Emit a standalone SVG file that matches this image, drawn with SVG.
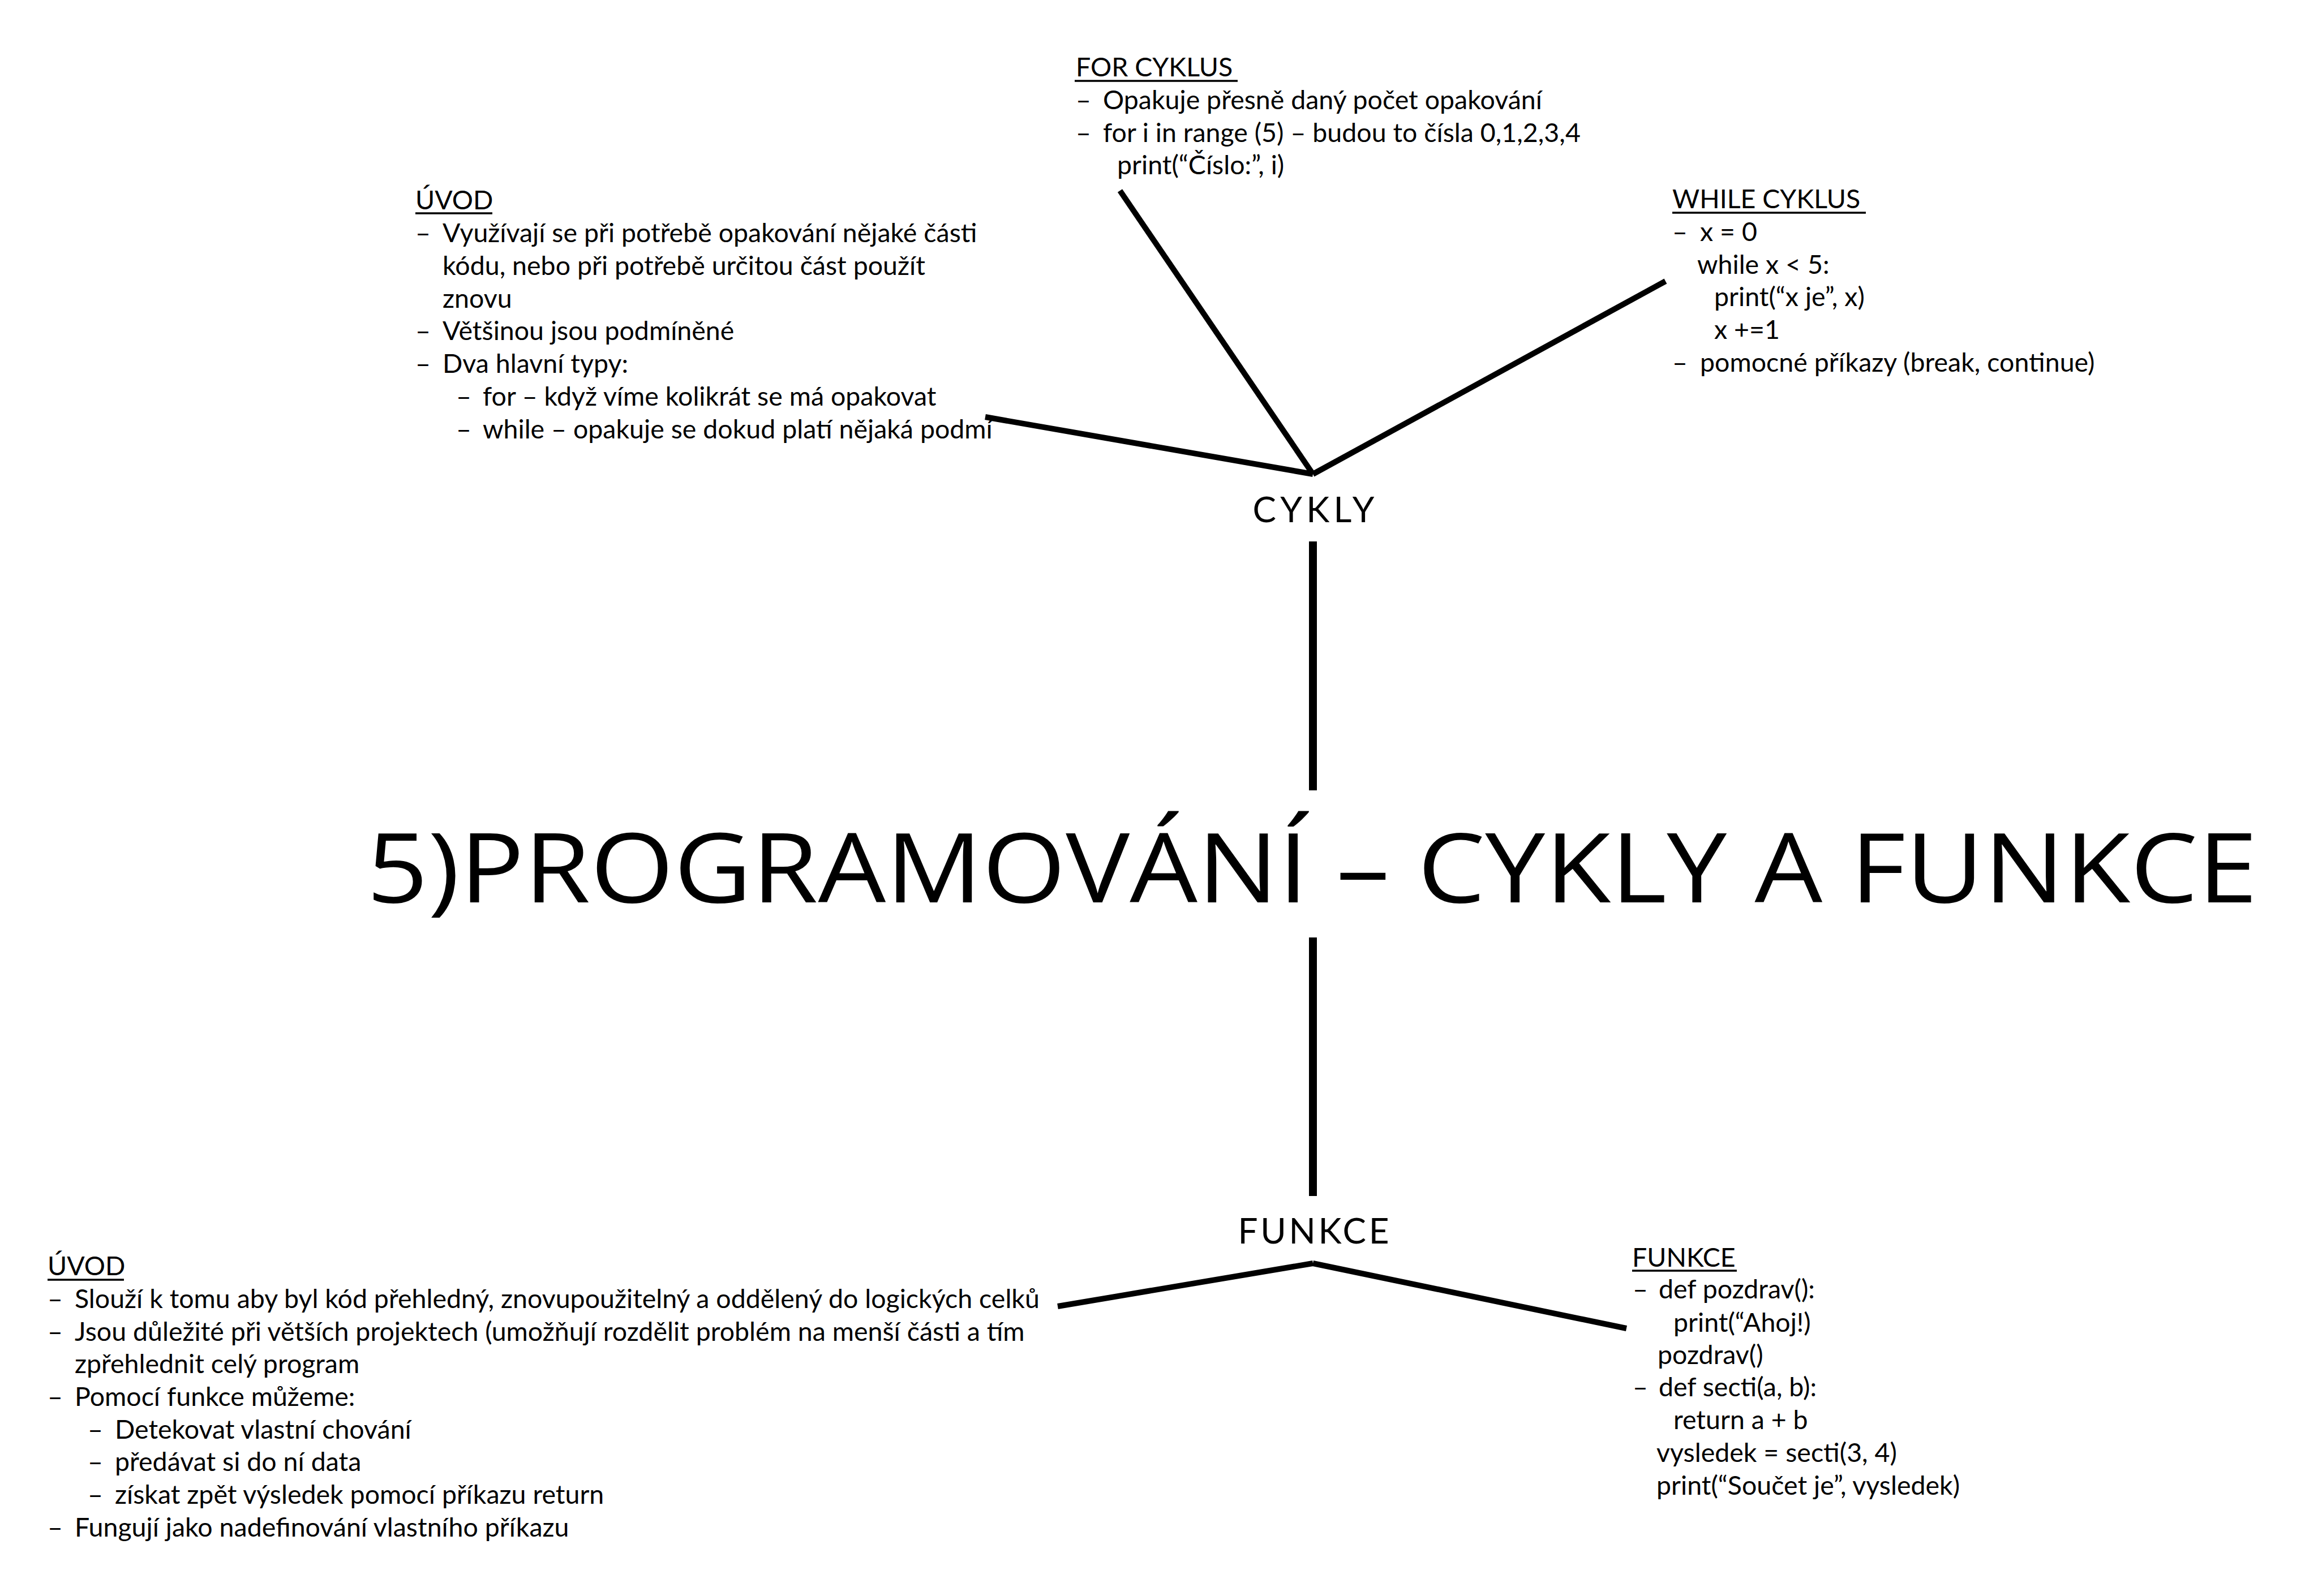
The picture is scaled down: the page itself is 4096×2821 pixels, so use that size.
<svg xmlns="http://www.w3.org/2000/svg" width="4096" height="2821" viewBox="0 0 4096 2821">
<style>
.t{font-family:"Lato","Liberation Sans",sans-serif;font-size:46.5px;fill:#000}
.lbl{font-family:"Lato","Liberation Sans",sans-serif;font-size:62px;fill:#000}
.ttl{font-family:"Open Sans","Liberation Sans",sans-serif;font-size:171px;fill:#000}
.ul{stroke:#000;stroke-width:3.5}
.c{stroke:#000;stroke-width:10;fill:none}
.v{stroke:#000;stroke-width:14;fill:none}
</style>
<rect width="4096" height="2821" fill="#fff"/>
<g id="connectors">
<line class="c" x1="1741" y1="737" x2="2320" y2="838"/>
<line class="c" x1="1979" y1="337" x2="2320" y2="838"/>
<line class="c" x1="2943" y1="497" x2="2320" y2="838"/>
<line class="v" x1="2320" y1="957" x2="2320" y2="1397"/>
<line class="v" x1="2320" y1="1657" x2="2320" y2="2114"/>
<line class="c" x1="1869" y1="2309" x2="2320" y2="2233"/>
<line class="c" x1="2874" y1="2348" x2="2320" y2="2233"/>
</g>
<g id="title">
<text class="ttl" x="648" y="1595" textLength="3341" lengthAdjust="spacingAndGlyphs">5)PROGRAMOVÁNÍ – CYKLY A FUNKCE</text>
</g>
<g id="cykly">
<text class="lbl" x="2321" y="923" text-anchor="middle" textLength="215">CYKLY</text>
</g>
<g id="funkce">
<text class="lbl" x="2321" y="2198" text-anchor="middle" textLength="267">FUNKCE</text>
</g>
<g id="uvod-cykly">
<text class="t" x="734" y="370">ÚVOD</text>
<line class="ul" x1="734" y1="377" x2="870" y2="377"/>
<text class="t" y="428"><tspan x="734">–</tspan><tspan x="782">Využívají se při potřebě opakování nějaké části</tspan></text>
<text class="t" x="782" y="486">kódu, nebo při potřebě určitou část použít</text>
<text class="t" x="782" y="544">znovu</text>
<text class="t" y="601"><tspan x="734">–</tspan><tspan x="782">Většinou jsou podmíněné</tspan></text>
<text class="t" y="659"><tspan x="734">–</tspan><tspan x="782">Dva hlavní typy:</tspan></text>
<text class="t" y="717"><tspan x="806">–</tspan><tspan x="853">for – když víme kolikrát se má opakovat</tspan></text>
<text class="t" y="775"><tspan x="806">–</tspan><tspan x="853">while – opakuje se dokud platí nějaká podmí</tspan></text>
</g>
<g id="for-cyklus">
<text class="t" x="1901" y="135">FOR CYKLUS</text>
<line class="ul" x1="1899" y1="143" x2="2187" y2="143"/>
<text class="t" y="193"><tspan x="1901">–</tspan><tspan x="1949">Opakuje přesně daný počet opakování</tspan></text>
<text class="t" y="251"><tspan x="1901">–</tspan><tspan x="1949">for i in range (5) – budou to čísla 0,1,2,3,4</tspan></text>
<text class="t" x="1974" y="308">print(“Číslo:”, i)</text>
</g>
<g id="while-cyklus">
<text class="t" x="2955" y="368">WHILE CYKLUS</text>
<line class="ul" x1="2955" y1="376" x2="3297" y2="376"/>
<text class="t" y="426"><tspan x="2955">–</tspan><tspan x="3004">x = 0</tspan></text>
<text class="t" x="2999" y="484">while x &lt; 5:</text>
<text class="t" x="3029" y="541">print(“x je”, x)</text>
<text class="t" x="3029" y="599">x +=1</text>
<text class="t" y="657"><tspan x="2955">–</tspan><tspan x="3004">pomocné příkazy (break, continue)</tspan></text>
</g>
<g id="uvod-funkce">
<text class="t" x="84" y="2254">ÚVOD</text>
<line class="ul" x1="84" y1="2262" x2="219" y2="2262"/>
<text class="t" y="2312"><tspan x="84">–</tspan><tspan x="132">Slouží k tomu aby byl kód přehledný, znovupoužitelný a oddělený do logických celků</tspan></text>
<text class="t" y="2370"><tspan x="84">–</tspan><tspan x="132">Jsou důležité při větších projektech (umožňují rozdělit problém na menší části a tím</tspan></text>
<text class="t" x="132" y="2427">zpřehlednit celý program</text>
<text class="t" y="2485"><tspan x="84">–</tspan><tspan x="132">Pomocí funkce můžeme:</tspan></text>
<text class="t" y="2543"><tspan x="155">–</tspan><tspan x="203">Detekovat vlastní chování</tspan></text>
<text class="t" y="2600"><tspan x="155">–</tspan><tspan x="203">předávat si do ní data</tspan></text>
<text class="t" y="2658"><tspan x="155">–</tspan><tspan x="203">získat zpět výsledek pomocí příkazu return</tspan></text>
<text class="t" y="2716"><tspan x="84">–</tspan><tspan x="132">Fungují jako nadefinování vlastního příkazu</tspan></text>
</g>
<g id="funkce-detail">
<text class="t" x="2884" y="2239">FUNKCE</text>
<line class="ul" x1="2884" y1="2246" x2="3069" y2="2246"/>
<text class="t" y="2295"><tspan x="2885">–</tspan><tspan x="2931">def pozdrav():</tspan></text>
<text class="t" x="2957" y="2354">print(“Ahoj!)</text>
<text class="t" x="2929" y="2411">pozdrav()</text>
<text class="t" y="2468"><tspan x="2885">–</tspan><tspan x="2931">def secti(a, b):</tspan></text>
<text class="t" x="2957" y="2526">return a + b</text>
<text class="t" x="2927" y="2584">vysledek = secti(3, 4)</text>
<text class="t" x="2927" y="2642">print(“Součet je”, vysledek)</text>
</g>
</svg>
